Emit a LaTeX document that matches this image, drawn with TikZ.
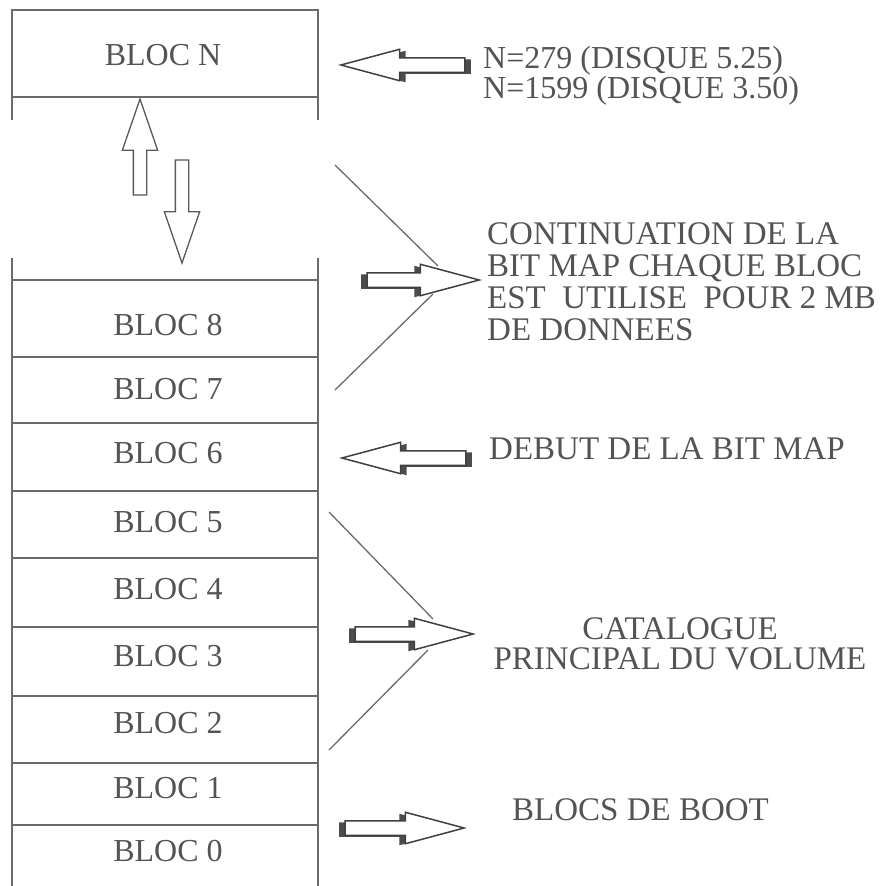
\documentclass[tikz,border=0pt]{standalone}
\usepackage{fontspec}
\setmainfont{Liberation Serif}
\usetikzlibrary{shapes.arrows, shadows, positioning}
\definecolor{ink}{gray}{0.33}
\definecolor{rulegray}{gray}{0.42}

\begin{document}
\begin{tikzpicture}[
    x=1pt, y=-1pt,
    col/.style={draw=rulegray, line width=1.6pt},
    lead/.style={draw=rulegray, line width=1.3pt},
    bloc/.style={text=ink, font=\fontsize{32}{32}\selectfont, inner sep=0pt, anchor=base},
    note/.style={text=ink, font=\fontsize{33}{32}\selectfont, inner sep=0pt,
                 align=left, anchor=north west},
    fat/.style={single arrow, draw=black!75, line width=1.5pt, fill=white,
                minimum height=124pt, inner xsep=0pt, inner ysep=6.5pt,
                single arrow head extend=8.5pt, single arrow tip angle=30, anchor=tip},
    rfat/.style={fat, drop shadow={shadow xshift=-6pt, shadow yshift=-1.5pt,
                 fill=black!70, opacity=1}},
    lfat/.style={fat, shape border rotate=180, drop shadow={shadow xshift=6pt,
                 shadow yshift=-1.5pt, fill=black!70, opacity=1}},
    slim/.style={single arrow, draw=black!65, line width=1.3pt, fill=white,
                 inner sep=6pt, single arrow head extend=11pt,
                 single arrow tip angle=38, anchor=tip}
  ]
  \useasboundingbox (0,0) rectangle (882,886);

  % bloc N
  \draw[col] (12,120) -- (12,10) -- (318,10) -- (318,120);
  \draw[col] (12,97) -- (318,97);
  \node[bloc] (bN) at (163,65) {BLOC N};

  % blocs 0 a 8
  \draw[col] (12,258) -- (12,886);
  \draw[col] (318,258) -- (318,886);
  \foreach \y in {280,357,423,491,558,627,696,763,825}
    \draw[col] (12,\y) -- (318,\y);
  \node[bloc] (b8) at (168,335) {BLOC 8};
  \node[bloc] (b7) at (168,399) {BLOC 7};
  \node[bloc] (b6) at (168,463) {BLOC 6};
  \node[bloc] (b5) at (168,532) {BLOC 5};
  \node[bloc] (b4) at (168,599) {BLOC 4};
  \node[bloc] (b3) at (168,666) {BLOC 3};
  \node[bloc] (b2) at (168,733) {BLOC 2};
  \node[bloc] (b1) at (168,798) {BLOC 1};
  \node[bloc] (b0) at (168,861) {BLOC 0};

  % fleches entre les blocs
  \node[slim, shape border rotate=90, minimum height=96pt] (up) at (140,97) {};
  \node[slim, shape border rotate=270, minimum height=103pt] (down) at (182,265) {};

  % grosses fleches
  \node[lfat] (asize) at (338,65) {};
  \node[rfat, minimum height=112pt] (acont) at (482,280) {};
  \node[lfat] (adebut) at (339,458) {};
  \node[rfat, minimum height=118pt] (acat) at (476,634) {};
  \node[rfat, minimum height=119pt] (aboot) at (467,828) {};

  % accolades
  \coordinate (contA) at (335,165);
  \coordinate (contB) at (335,390);
  \coordinate (contC) at (438,266);
  \coordinate (contD) at (433,294);
  \coordinate (catA) at (329,512);
  \coordinate (catB) at (329,750);
  \coordinate (catC) at (433,619);
  \coordinate (catD) at (428,650);
  \draw[lead] (contA) -- (contC);
  \draw[lead] (contB) -- (contD);
  \draw[lead] (catA) -- (catC);
  \draw[lead] (catB) -- (catD);

  % textes
  \node[note, font=\fontsize{32}{26}\selectfont] (size) at (483,46)
    {N=279 (DISQUE 5.25)\\N=1599 (DISQUE 3.50)};
  \node[note] (cont) at (487,222)
    {CONTINUATION DE LA\\BIT MAP CHAQUE BLOC\\EST\ \ UTILISE\ \ POUR 2 MB\\DE DONNEES};
  \node[note] (debut) at (489,438) {DEBUT DE LA BIT MAP};
  \node[note, align=center, anchor=north, font=\fontsize{33}{30}\selectfont] (cat)
    at (680,617) {CATALOGUE\\PRINCIPAL DU VOLUME};
  \node[note] (boot) at (512,798) {BLOCS DE BOOT};

\end{tikzpicture}
\end{document}
